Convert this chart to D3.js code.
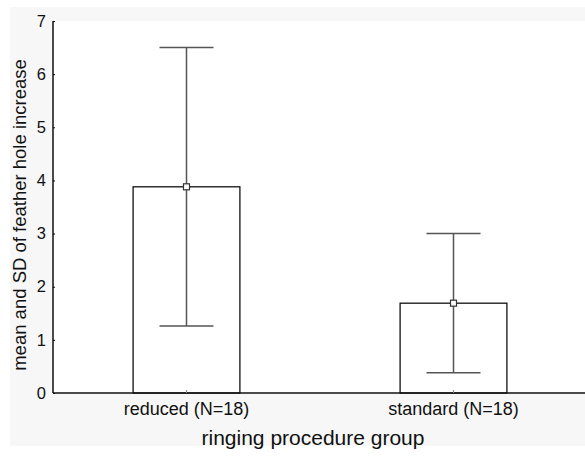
<!DOCTYPE html>
<html>
<head>
<meta charset="utf-8">
<title>feather hole increase</title>
<script src="https://d3js.org/d3.v7.min.js"></script>
<style>
  body { margin: 0; background: #fff; }
  text { font-family: "Liberation Sans", Arial, sans-serif; fill: #111; }
</style>
</head>
<body>
<div id="chart"></div>
<script>
// data
const categories = ["reduced (N=18)", "standard (N=18)"];
const means = [3.88, 1.69];
const sds = [2.62, 1.31];
const yTicks = [0, 1, 2, 3, 4, 5, 6, 7];

const W = 585, H = 458;
const margin = {top: 21, right: -2, bottom: 65, left: 53};
const w = W - margin.left - margin.right;
const h = H - margin.top - margin.bottom;

const svg = d3.select("#chart").append("svg")
    .attr("width", W)
    .attr("height", H);

// faint grey page and white plot area, like the original export
svg.append("rect").attr("x", 10).attr("y", 7).attr("width", W - 10).attr("height", 439)
    .attr("fill", "#f7f7f7");
svg.append("rect").attr("x", margin.left).attr("y", margin.top).attr("width", W - margin.left).attr("height", h)
    .attr("fill", "#fff");

const g = svg.append("g").attr("transform", "translate(" + margin.left + "," + margin.top + ")");

const data = categories.map((c, i) => ({cat: c, mean: means[i], sd: sds[i]}));

const x = d3.scaleBand()
    .domain(categories)
    .range([0, w])
    .paddingInner(0.6)
    .paddingOuter(0.3);

const y = d3.scaleLinear().domain([0, 7]).range([h, 0]);

// bars
g.selectAll("rect.bar")
    .data(data)
    .enter().append("rect")
    .attr("class", "bar")
    .attr("x", d => x(d.cat))
    .attr("y", d => y(d.mean))
    .attr("width", x.bandwidth())
    .attr("height", d => y(0) - y(d.mean))
    .attr("fill", "#fff")
    .attr("stroke", "#111")
    .attr("stroke-width", 1.3);

// error bars
const cx = d => x(d.cat) + x.bandwidth() / 2;
const capW = 27;
const err = g.selectAll("g.err").data(data).enter().append("g").attr("class", "err")
    .attr("stroke", "#555").attr("stroke-width", 1.5);
err.append("line")
    .attr("x1", cx).attr("x2", cx)
    .attr("y1", d => y(d.mean + d.sd)).attr("y2", d => y(d.mean - d.sd));
err.append("line")
    .attr("x1", d => cx(d) - capW).attr("x2", d => cx(d) + capW)
    .attr("y1", d => y(d.mean + d.sd)).attr("y2", d => y(d.mean + d.sd));
err.append("line")
    .attr("x1", d => cx(d) - capW).attr("x2", d => cx(d) + capW)
    .attr("y1", d => y(d.mean - d.sd)).attr("y2", d => y(d.mean - d.sd));

// mean markers
g.selectAll("rect.mean")
    .data(data)
    .enter().append("rect")
    .attr("class", "mean")
    .attr("x", d => cx(d) - 3)
    .attr("y", d => y(d.mean) - 3)
    .attr("width", 6)
    .attr("height", 6)
    .attr("fill", "#fff")
    .attr("stroke", "#333")
    .attr("stroke-width", 1.2);

// axes
const yAxis = d3.axisLeft(y).tickValues(yTicks).tickSize(-2).tickPadding(7).tickFormat(d3.format("d"));
const yg = g.append("g").call(yAxis);
yg.select(".domain").attr("stroke", "#111").attr("stroke-width", 1.5).attr("d", "M0,0V" + h);
yg.selectAll("text").style("font-size", "16.5px");

const xAxis = d3.axisBottom(x).tickSize(-3).tickPadding(9);
const xg = g.append("g").attr("transform", "translate(0," + h + ")").call(xAxis);
xg.select(".domain").attr("stroke", "#111").attr("stroke-width", 1.5).attr("d", "M0,0H" + w);
xg.selectAll(".tick line").attr("stroke", "#888");
xg.selectAll("text").style("font-size", "18px");

// axis titles
svg.append("text")
    .attr("x", 313)
    .attr("y", 445)
    .attr("text-anchor", "middle")
    .style("font-size", "21px")
    .text("ringing procedure group");

svg.append("text")
    .attr("transform", "translate(26,215) rotate(-90)")
    .attr("text-anchor", "middle")
    .style("font-size", "18.5px")
    .text("mean and SD of feather hole increase");
</script>
</body>
</html>
